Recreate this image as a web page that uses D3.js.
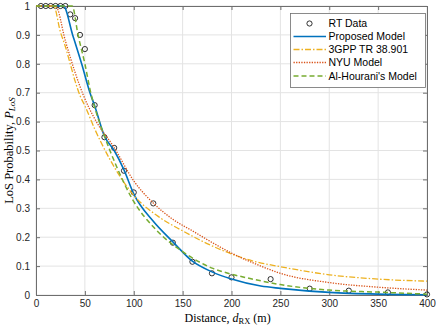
<!DOCTYPE html>
<html>
<meta charset=utf-8>
<title>LoS probability</title>
<style>
  body { margin: 0; background: #fff; }
  svg text { font-family: "Liberation Sans", Arial, sans-serif; }
</style>
<svg id=chart width=436 height=327></svg>
<script src=https://cdn.jsdelivr.net/npm/d3@7></script>
<script>
// ray tracing samples
var rtDist = [5, 10, 15, 20, 25, 30, 35, 40, 45, 50, 60, 70, 80, 90, 100, 120, 140, 160, 180, 200, 240, 280, 320, 360, 400];
var rtProb = [1, 1, 1, 1, 1, 1, 0.971, 0.958, 0.90, 0.851, 0.657, 0.546, 0.509, 0.43, 0.355, 0.317, 0.181, 0.115, 0.075, 0.061, 0.055, 0.022, 0.015, 0.009, 0.002];

// model curves
var propDist = [0, 28, 37.5, 46.7, 55.2, 60, 70, 80, 90, 100, 120, 140, 160, 180, 200, 230, 250, 300, 350, 400];
var propProb = [1, 1, 0.9, 0.8, 0.7, 0.655, 0.55, 0.50, 0.433, 0.35, 0.255, 0.184, 0.117, 0.08, 0.055, 0.031, 0.023, 0.009, 0.003, 0.001];

var gppDist = [0, 18, 25, 30, 35, 40, 45, 50, 60, 75, 100, 125, 150, 175, 200, 225, 250, 300, 350, 400];
var gppProb = [1, 1, 0.91, 0.86, 0.80, 0.74, 0.69, 0.655, 0.575, 0.473, 0.345, 0.272, 0.222, 0.178, 0.142, 0.115, 0.098, 0.07, 0.055, 0.048];

var nyuDist = [0, 20, 30, 40, 48, 60, 80, 100, 120, 140, 160, 180, 200, 230, 250, 300, 350, 400];
var nyuProb = [1, 1, 0.88, 0.77, 0.695, 0.61, 0.51, 0.395, 0.318, 0.262, 0.222, 0.182, 0.145, 0.1, 0.075, 0.043, 0.027, 0.017];

var ahDist = [0, 37, 43, 50, 56, 60, 70, 82.5, 98, 123, 150, 181, 200, 219, 250, 300, 350, 400];
var ahProb = [1, 1, 0.9, 0.8, 0.7, 0.65, 0.55, 0.444, 0.335, 0.225, 0.15, 0.092, 0.072, 0.057, 0.036, 0.017, 0.01, 0.003];

var xTicks = [0, 50, 100, 150, 200, 250, 300, 350, 400];
var yTicks = [0, 0.1, 0.2, 0.3, 0.4, 0.5, 0.6, 0.7, 0.8, 0.9, 1];

var svg = d3.select("#chart");
var mLeft = 36, mRight = 427, mTop = 6, mBottom = 295;

var x = d3.scaleLinear().domain([0, 400]).range([mLeft, mRight]);
var y = d3.scaleLinear().domain([0, 1]).range([mBottom, mTop]);

// grid
var grid = svg.append("g");
grid.selectAll(".gx").data(xTicks).enter().append("line")
    .attr("x1", function (d) { return x(d); }).attr("x2", function (d) { return x(d); })
    .attr("y1", mTop).attr("y2", mBottom)
    .attr("stroke", "#e3e3e3").attr("stroke-width", 1);
grid.selectAll(".gy").data(yTicks).enter().append("line")
    .attr("y1", function (d) { return y(d); }).attr("y2", function (d) { return y(d); })
    .attr("x1", mLeft).attr("x2", mRight)
    .attr("stroke", "#e3e3e3").attr("stroke-width", 1);

// axes, MATLAB style with inward ticks on all four sides
var fmt = function (d) { return d3.format("")(d); };
svg.append("g").attr("transform", "translate(0," + mBottom + ")")
    .call(d3.axisBottom(x).tickValues(xTicks).tickSize(-4).tickPadding(5).tickFormat(fmt));
svg.append("g").attr("transform", "translate(0," + mTop + ")")
    .call(d3.axisTop(x).tickValues(xTicks).tickSize(-4).tickFormat(""));
svg.append("g").attr("transform", "translate(" + mLeft + ",0)")
    .call(d3.axisLeft(y).tickValues(yTicks).tickSize(-4).tickPadding(6).tickFormat(fmt));
svg.append("g").attr("transform", "translate(" + mRight + ",0)")
    .call(d3.axisRight(y).tickValues(yTicks).tickSize(-4).tickFormat(""));
svg.selectAll(".domain").attr("stroke", "#6e6e6e");
svg.selectAll(".tick line").attr("stroke", "#6e6e6e");
svg.selectAll(".tick text").attr("font-size", 10).attr("fill", "#262626");

// data
var plot = svg.append("g");

function pts(ds, ps) { return ds.map(function (d, i) { return [d, ps[i]]; }); }
var line = d3.line().x(function (d) { return x(d[0]); }).y(function (d) { return y(d[1]); })
    .curve(d3.curveMonotoneX);

plot.selectAll(".rt").data(pts(rtDist, rtProb)).enter().append("circle")
    .attr("cx", function (d) { return x(d[0]); })
    .attr("cy", function (d) { return y(d[1]); })
    .attr("r", 2.6).attr("fill", "none").attr("stroke", "#000").attr("stroke-width", 0.8);

var series = [
    {name: "Proposed Model", d: pts(propDist, propProb), color: "#0072BD", w: 1.6, dash: null},
    {name: "3GPP TR 38.901", d: pts(gppDist, gppProb), color: "#EDB120", w: 1.3, dash: "6,2,1.5,2"},
    {name: "NYU Model", d: pts(nyuDist, nyuProb), color: "#D95319", w: 1.3, dash: "1.3,1.3"},
    {name: "Al-Hourani's Model", d: pts(ahDist, ahProb), color: "#77AC30", w: 1.5, dash: "5,3"}
];
series.forEach(function (s) {
    plot.append("path").attr("d", line(s.d)).attr("fill", "none")
        .attr("stroke", s.color).attr("stroke-width", s.w)
        .attr("stroke-dasharray", s.dash);
});

// legend
var lg = svg.append("g");
lg.append("rect").attr("x", 290.5).attr("y", 13.5).attr("width", 135).attr("height", 74)
    .attr("fill", "#fff").attr("stroke", "#6e6e6e").attr("stroke-width", 0.8);
var rowY = [23.5, 36.5, 49.5, 62.5, 76];
lg.append("circle").attr("cx", 309.5).attr("cy", rowY[0]).attr("r", 2.6)
    .attr("fill", "none").attr("stroke", "#000").attr("stroke-width", 0.8);
lg.append("text").attr("x", 328.5).attr("y", rowY[0] + 3.5).attr("font-size", 10.5).attr("fill", "#000").text("RT Data");
series.forEach(function (s, i) {
    var yy = rowY[i + 1];
    lg.append("line").attr("x1", 293.5).attr("x2", 326).attr("y1", yy).attr("y2", yy)
        .attr("stroke", s.color).attr("stroke-width", s.w).attr("stroke-dasharray", s.dash);
    lg.append("text").attr("x", 328.5).attr("y", yy + 3.5).attr("font-size", 10.5).attr("fill", "#000").text(s.name);
});

// axis labels
var serif = "'Liberation Serif', 'Times New Roman', serif";
var xl = svg.append("text").attr("x", x(196)).attr("y", 321.5).attr("text-anchor", "middle")
    .attr("font-size", 12).style("font-family", serif).attr("fill", "#000");
xl.append("tspan").text("Distance, ");
xl.append("tspan").attr("font-style", "italic").text("d");
xl.append("tspan").attr("font-size", 8.5).attr("dy", 2).text("RX");
xl.append("tspan").attr("dy", -2).text(" (m)");

var yl = svg.append("text").attr("transform", "translate(13," + y(0.5) + ") rotate(-90)")
    .attr("text-anchor", "middle").attr("font-size", 12.5)
    .style("font-family", serif).attr("fill", "#000");
yl.append("tspan").text("LoS Probability, ");
yl.append("tspan").attr("font-style", "italic").text("P");
yl.append("tspan").attr("font-style", "italic").attr("font-size", 9).attr("dy", 2).text("LoS");
</script>
